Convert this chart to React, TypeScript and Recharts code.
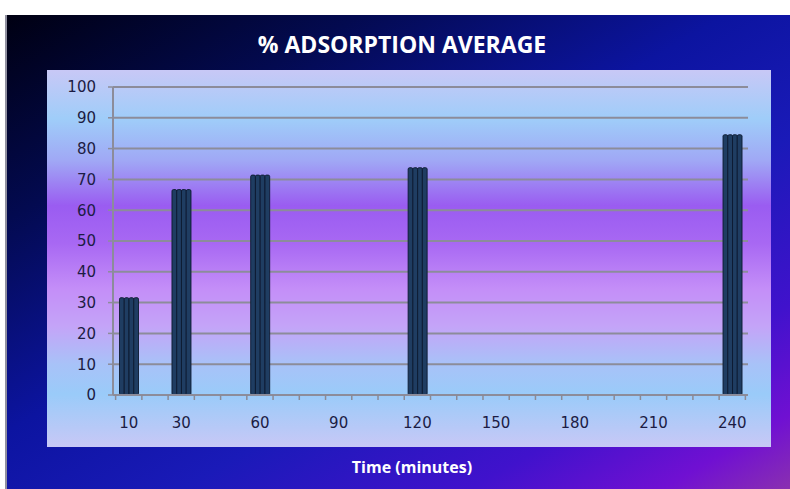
import { Bar, BarChart, CartesianGrid, XAxis, YAxis } from "recharts";

const times = [10, 30, 60, 120, 240];
const adsorption = [31.6, 66.7, 71.4, 73.8, 84.5];
const xLabels = [10, 30, 60, 90, 120, 150, 180, 210, 240];
const yTicks = [0, 10, 20, 30, 40, 50, 60, 70, 80, 90, 100];

const data = times.map((t, i) => ({ time: t, value: adsorption[i] }));

// tick marks sit between the 10-minute slots, labels at slot centres
const xTicks: number[] = [];
for (let m = 5; m <= 245; m += 5) xTicks.push(m);

const TICK_SIZE = 0;
const TICK_MARGIN = 22;

function XTick(props: any) {
  const { x, y, payload } = props;
  const v = payload.value;
  const axisY = y - TICK_SIZE - TICK_MARGIN;
  const isBoundary = v % 10 === 5;
  const isLabel = xLabels.includes(v);
  return (
    <g>
      {isBoundary && (
        <line x1={x} y1={axisY} x2={x} y2={axisY + 5} stroke="#8a8a96" strokeWidth={1.5} />
      )}
      {isLabel && (
        <text x={x} y={y} dy="0.71em" textAnchor="middle" fill="#1c1c44" fontSize={15} fontFamily="DejaVu Sans">
          {v}
        </text>
      )}
    </g>
  );
}

function CylinderBar(props: any) {
  const { x, y, width, height } = props;
  if (!height || height <= 0) return null;
  const n = 4;
  const w = width / n;
  const cols = [];
  for (let i = 0; i < n; i++) {
    cols.push(
      <rect
        key={i}
        x={x + i * w}
        y={y}
        width={w}
        height={height}
        rx={1.5}
        fill="#1f3d62"
        stroke="#0c1a30"
        strokeWidth={0.9}
      />
    );
  }
  return <g>{cols}</g>;
}

export default function App() {
  return (
    <div
      style={{
        position: "absolute",
        left: 0,
        top: 0,
        width: 790,
        height: 489,
        background: "#ffffff",
        overflow: "hidden",
      }}
    >
      <div style={{ position: "absolute", left: 5, top: 15, width: 2, height: 474, background: "#9090a0" }} />
      <div
        style={{
          position: "absolute",
          left: 7,
          top: 15,
          width: 783,
          height: 474,
          background:
            "linear-gradient(150deg, #000012 0%, #030a50 22%, #0c14a0 45%, #1a1ab8 62%, #4012cc 80%, #7010d2 92%, #8a30b0 100%)",
        }}
      />
      <div
        style={{
          position: "absolute",
          left: 47,
          top: 70,
          width: 724,
          height: 377,
          background:
            "linear-gradient(180deg, #c8c8f6 0%, #9fcdf9 13%, #a0a8f5 24%, #9a5cf1 36%, #a868f3 46%, #c48ef8 58%, #c4a4f8 68%, #a8c2f8 78%, #9acbf9 86%, #c8c8f6 100%)",
        }}
      />
      <div
        style={{
          position: "absolute",
          left: 7,
          top: 29,
          width: 790,
          textAlign: "center",
          color: "#ffffff",
          fontFamily: "Open Sans",
          fontWeight: 700,
          fontSize: 23,
          lineHeight: "30px",
        }}
      >
        % ADSORPTION AVERAGE
      </div>
      <div
        style={{
          position: "absolute",
          left: 0,
          top: 455,
          width: 824,
          textAlign: "center",
          color: "#ffffff",
          fontFamily: "Open Sans",
          fontWeight: 700,
          fontSize: 16,
          lineHeight: "24px",
        }}
      >
        Time (minutes)
      </div>
      <div style={{ position: "absolute", left: 0, top: 0 }}>
        <BarChart
          width={790}
          height={489}
          data={data}
          margin={{ top: 87, right: 42, bottom: 64, left: 63 }}
        >
          <CartesianGrid vertical={false} stroke="#8c8c9a" strokeWidth={2} />
          <XAxis
            dataKey="time"
            type="number"
            height={30}
            domain={[4, 246]}
            ticks={xTicks}
            interval={0}
            tick={<XTick />}
            tickLine={false}
            tickSize={TICK_SIZE}
            tickMargin={TICK_MARGIN}
            axisLine={{ stroke: "#8c8c9a", strokeWidth: 2 }}
            allowDataOverflow
          />
          <YAxis
            width={50}
            domain={[0, 100]}
            ticks={yTicks}
            interval={0}
            tickSize={5}
            tickMargin={12}
            tick={{ fill: "#1c1c44", fontSize: 15, fontFamily: "DejaVu Sans" }}
            tickLine={{ stroke: "#8c8c9a", strokeWidth: 1.5 }}
            axisLine={{ stroke: "#8c8c9a", strokeWidth: 2 }}
          />
          <Bar dataKey="value" barSize={19} shape={<CylinderBar />} isAnimationActive={false} />
        </BarChart>
      </div>
    </div>
  );
}
